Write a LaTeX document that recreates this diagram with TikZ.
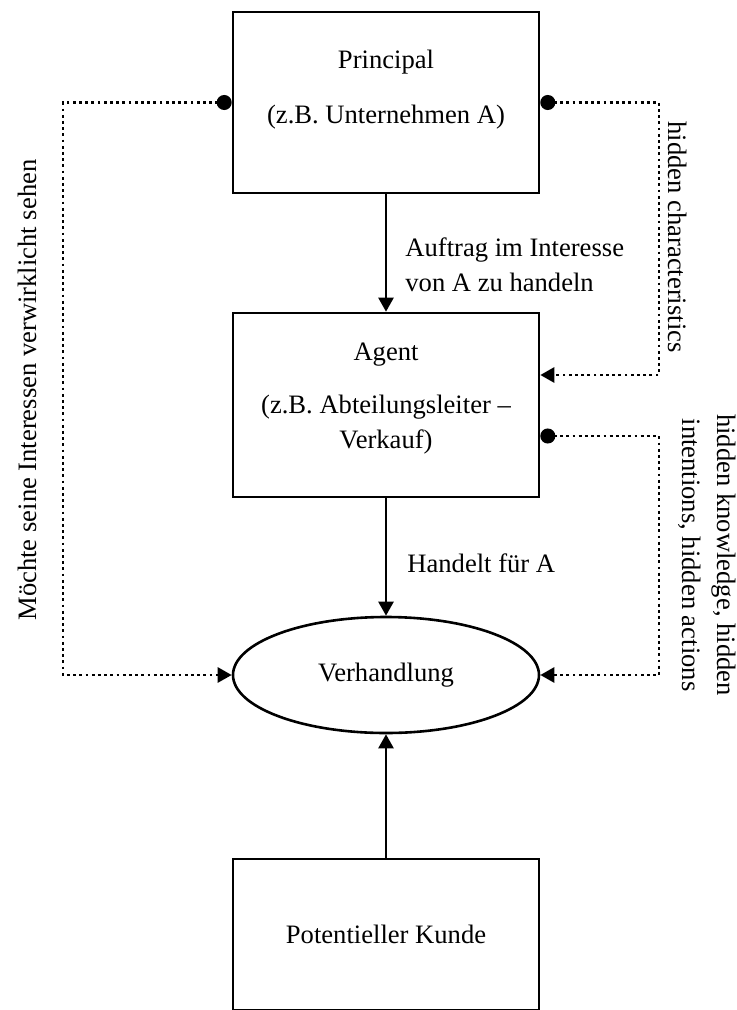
\documentclass[tikz,border=0pt]{standalone}
\usepackage{fontspec}
\setmainfont{Liberation Serif}
\usetikzlibrary{arrows.meta,shapes.geometric}

\begin{document}
\begin{tikzpicture}[x=0.5pt, y=-0.5pt]
    % --- Stile ---
    \tikzstyle{box}=[draw, rectangle, line width=1.3pt, minimum width=153pt, inner sep=0pt]
    \tikzstyle{txt}=[font=\fontsize{13.3pt}{17.5pt}\selectfont, align=center, inner sep=0pt]
    \tikzstyle{flow}=[-{Triangle[length=7pt,width=7.5pt]}, line width=1.2pt]
    \tikzstyle{info}=[{Circle[length=7.5pt]}-{Triangle[length=7pt,width=7.5pt]}, line width=1.4pt, dash pattern=on 1.4pt off 1.7pt]

    \useasboundingbox (0,0) rectangle (737,1010);

    % 1. Kaesten und Ellipse
    \node[box, minimum height=90.5pt] (principal) at (386,102.5) {};
    \node[box, minimum height=92pt] (agent) at (386,405) {};
    \node[draw, ellipse, line width=1.3pt, minimum width=153pt, minimum height=58pt, inner sep=0pt, txt] (verhandlung) at (386,675) {Verhandlung};
    \node[box, minimum height=75.5pt, txt] (kunde) at (386,934.5) {Potentieller Kunde};

    % 2. Texte in den Kaesten
    \node[txt] (principal-name) at (386,62) {Principal};
    \node[txt] (principal-bsp) at (386,117) {(z.B. Unternehmen A)};
    \node[txt] (agent-name) at (386,355) {Agent};
    \node[txt] (agent-bsp) at (386,424.5) {(z.B. Abteilungsleiter --\\Verkauf)};

    % 3. durchgezogene Pfeile
    \draw[flow] (principal) -- (agent);
    \draw[flow] (agent) -- (verhandlung);
    \draw[flow] (kunde) -- (verhandlung);
    \node[txt, anchor=west, align=left] (auftrag) at (405,264.5) {Auftrag im Interesse\\von A zu handeln};
    \node[txt, anchor=west] (handelt) at (407,563) {Handelt für A};

    % 4. gepunktete Verbindungen
    \coordinate (l1) at (63,102.5);
    \coordinate (l2) at (63,675);
    \draw[info] (principal.west) -- (l1) -- (l2) -- (verhandlung.west);
    \coordinate (r1) at (659,102.5);
    \coordinate (r2) at (659,375);
    \draw[info] (principal.east) -- (r1) -- (r2) -- (agent.east |- r2);
    \coordinate (r3) at (659,436);
    \coordinate (r4) at (659,675);
    \draw[info] (agent.east |- r3) -- (r3) -- (r4) -- (verhandlung.east);

    % 5. gedrehte Beschriftungen
    \node[txt, rotate=90] (ziel) at (27,390) {Möchte seine Interessen verwirklicht sehen};
    \node[txt, rotate=-90] (hc) at (678,237) {hidden characteristics};
    \node[txt, rotate=-90] (hk) at (707.5,555) {hidden knowledge, hidden\\intentions, hidden actions};

\end{tikzpicture}
\end{document}
